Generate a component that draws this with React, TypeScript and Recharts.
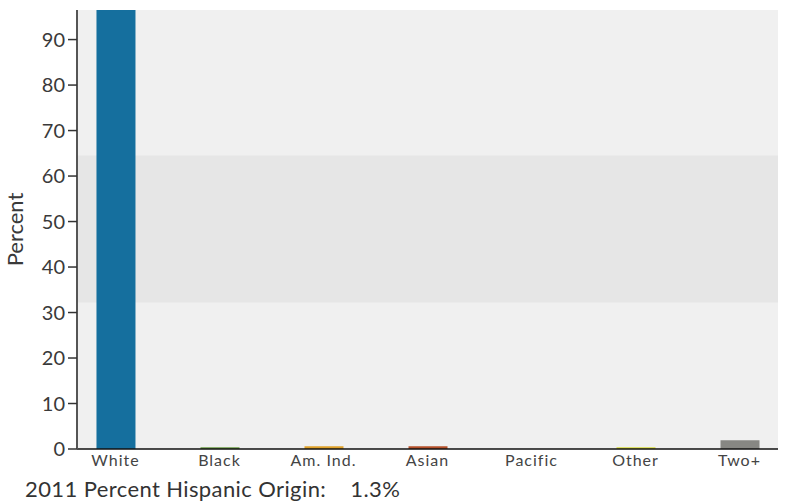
import { Bar, BarChart, CartesianGrid, Cell, ReferenceArea, XAxis, YAxis } from 'recharts';

const CATEGORIES = ['White', 'Black', 'Am. Ind.', 'Asian', 'Pacific', 'Other', 'Two+'];
const PERCENTS = [96.5, 0.4, 0.6, 0.6, 0, 0.4, 1.9];
const COLORS = ['#156f9e', '#6a9a45', '#e0a22a', '#b5502a', '#7a5ea8', '#d8dc3c', '#878783'];
const Y_TICKS = [0, 10, 20, 30, 40, 50, 60, 70, 80, 90];
const BAND = [32.2, 64.5];
const HISPANIC = '2011 Percent Hispanic Origin:    1.3%';

const FONT = 'Lato, "DejaVu Sans", sans-serif';

export default function App() {
  const chartData = CATEGORIES.map((label, i) => ({
    idx: i,
    label,
    value: PERCENTS[i],
  }));

  return (
    <div style={{ position: 'absolute', left: 0, top: 0, width: 786, height: 503, fontFamily: FONT }}>
      <BarChart
        width={786}
        height={480}
        data={chartData}
        margin={{ top: 10, right: 8, bottom: 0, left: 0 }}
      >
        <CartesianGrid fill='#f0f0f0' stroke='none' horizontal={false} vertical={false} />
        <ReferenceArea y1={BAND[0]} y2={BAND[1]} fill='#e6e6e6' fillOpacity={1} stroke='none' />

        <XAxis
          type='number'
          dataKey='idx'
          domain={[-0.37, 6.37]}
          ticks={[0, 1, 2, 3, 4, 5, 6]}
          tickFormatter={(i: number) => CATEGORIES[i]}
          height={31}
          axisLine={{ stroke: '#111', strokeWidth: 1.5 }}
          tickLine={false}
          tick={{ fill: '#444', fontSize: 16, letterSpacing: 1, fontFamily: FONT }}
          tickMargin={0}
          allowDataOverflow
        />

        <YAxis
          domain={[0, 96.5]}
          ticks={Y_TICKS}
          width={77}
          allowDataOverflow
          axisLine={{ stroke: '#555', strokeWidth: 2 }}
          tickLine={{ stroke: '#333', strokeWidth: 1.5 }}
          tickSize={9}
          tickMargin={3}
          tick={{ fill: '#3a3a3a', fontSize: 20, fontFamily: FONT }}
          label={{
            value: 'Percent',
            angle: -90,
            position: 'insideLeft',
            dx: 10,
            fill: '#3a3a3a',
            fontSize: 22,
            fontFamily: FONT,
            style: { textAnchor: 'middle' },
          }}
        />

        <Bar dataKey='value' barSize={39} isAnimationActive={false}>
          {chartData.map((d, i) => (
            <Cell key={d.label} fill={COLORS[i]} />
          ))}
        </Bar>
      </BarChart>

      <div
        style={{
          position: 'absolute',
          left: 25,
          top: 478,
          fontSize: 22,
          letterSpacing: 0.4,
          color: '#333',
          whiteSpace: 'pre',
          lineHeight: '22px',
        }}
      >
        {HISPANIC}
      </div>
    </div>
  );
}
